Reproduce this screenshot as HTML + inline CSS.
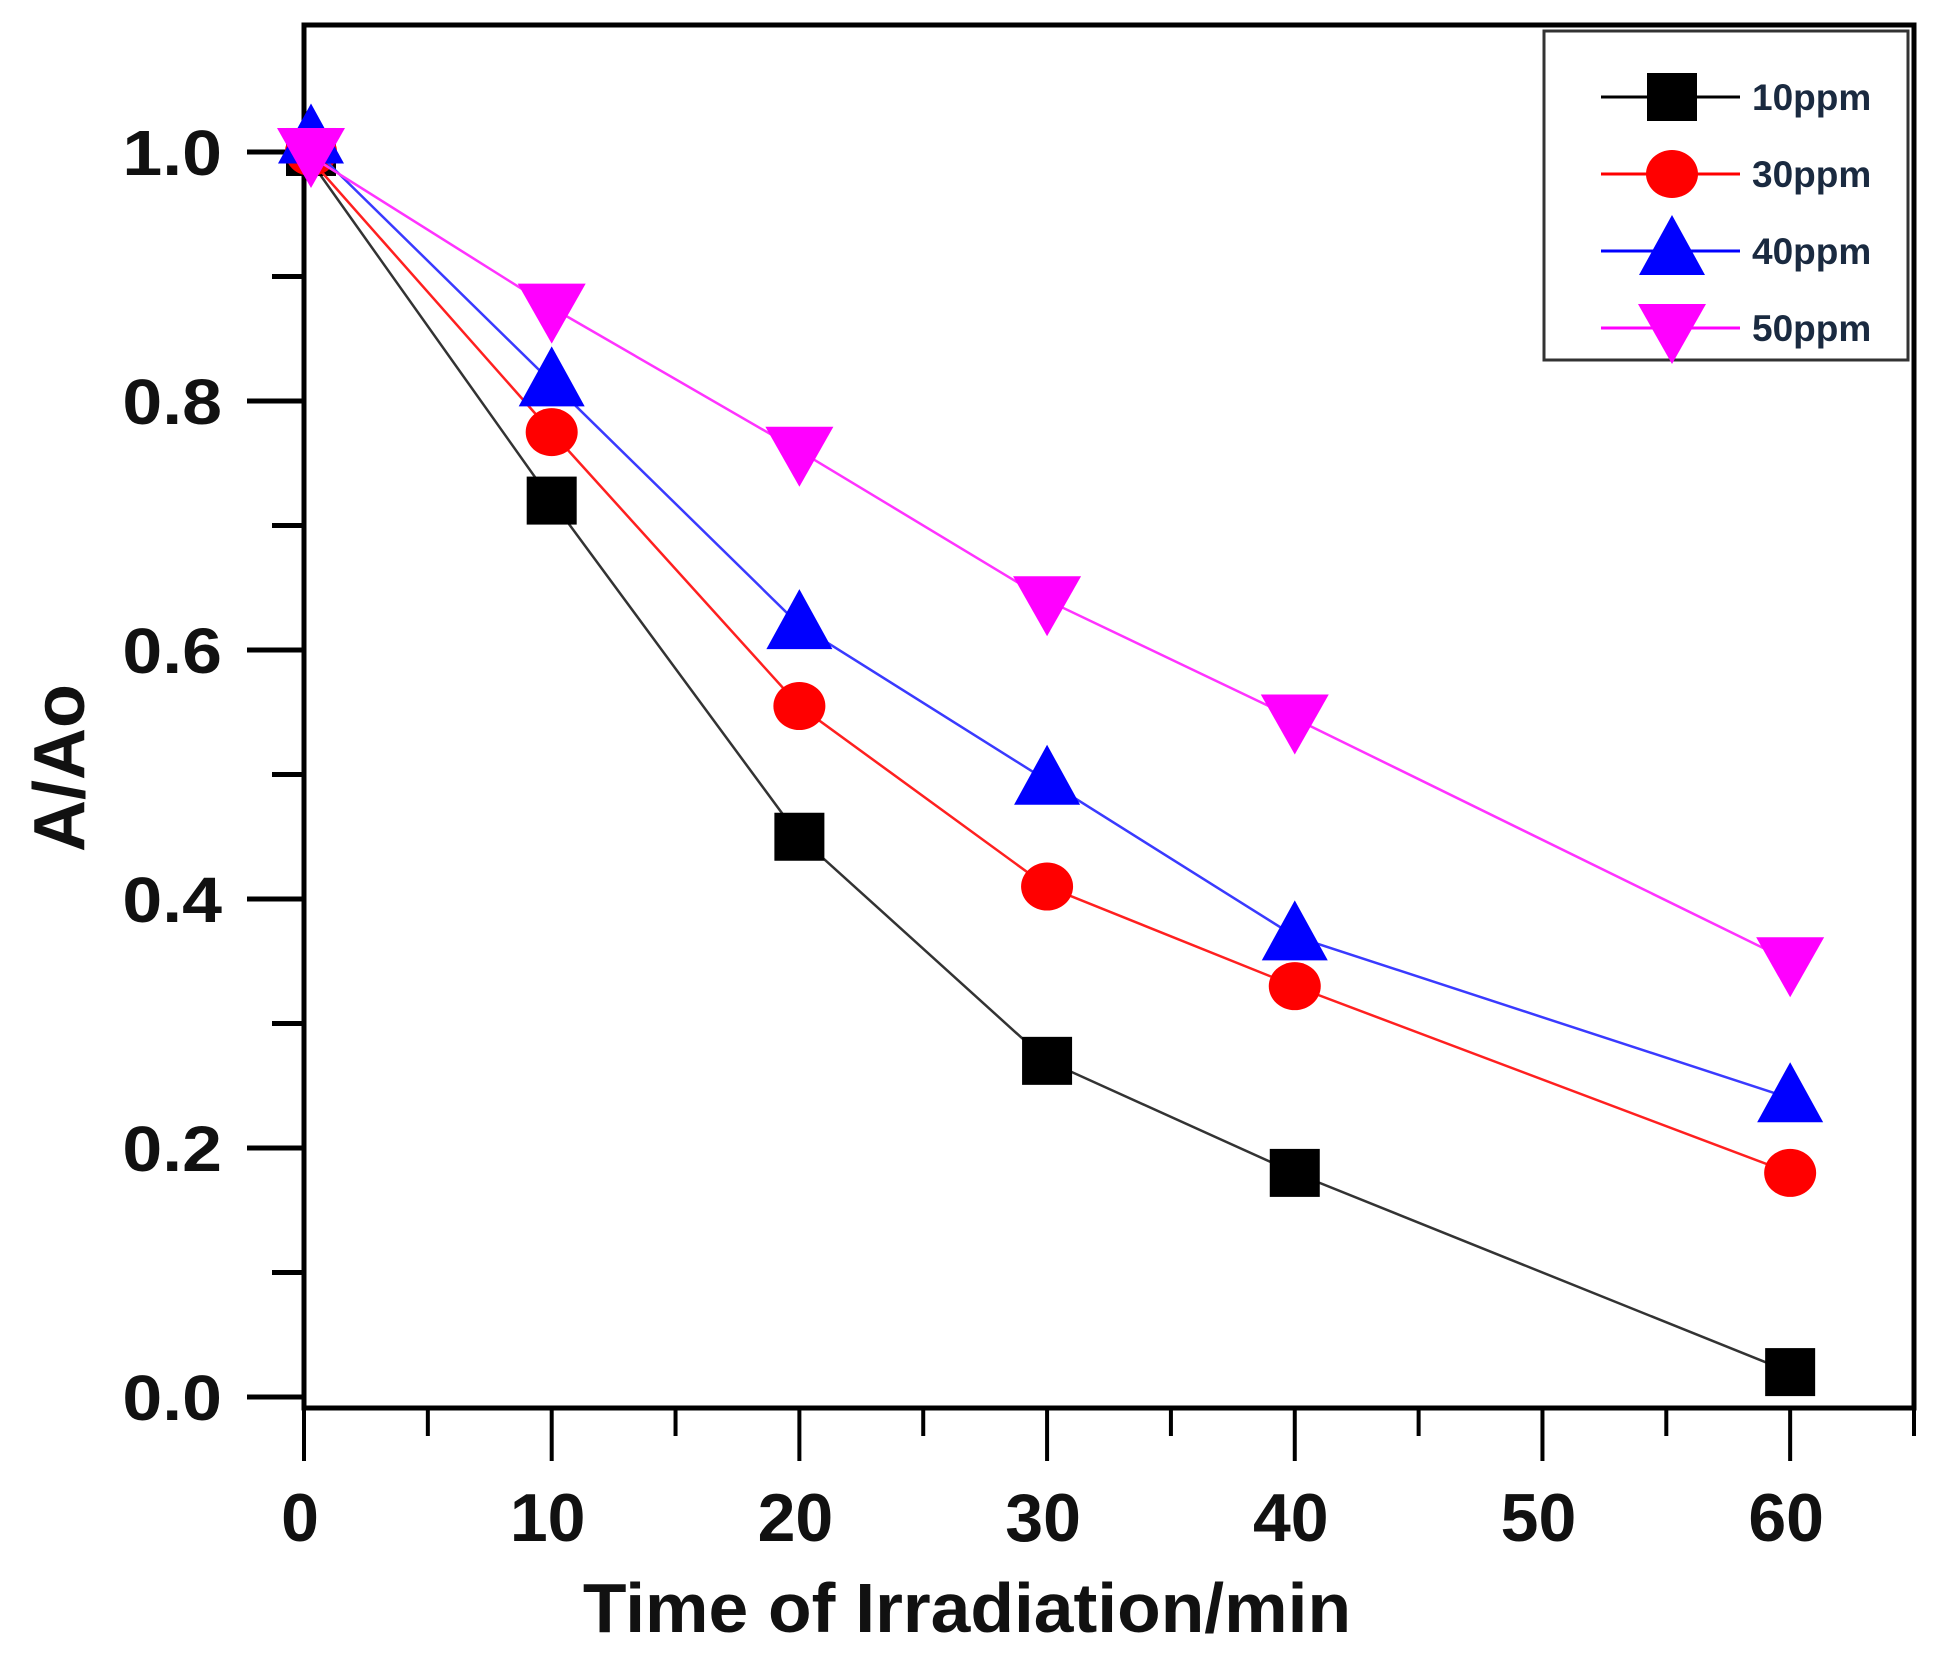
<!DOCTYPE html>
<html><head><meta charset="utf-8"><style>
html,body{margin:0;padding:0;background:#fff;}
svg{display:block;font-family:"Liberation Sans",Arial,sans-serif;font-weight:bold;}
</style></head><body>
<svg id="chart" width="1945" height="1660" viewBox="0 0 1945 1660">
<g id="axes"></g>
<g id="series"></g>
<g id="legend"></g>
</svg>
<script>
const times = [0, 10, 20, 30, 40, 60];
const s10 = [1.0, 0.72, 0.45, 0.27, 0.18, 0.02];
const s30 = [1.0, 0.775, 0.555, 0.41, 0.33, 0.18];
const s40 = [1.01, 0.815, 0.62, 0.495, 0.37, 0.24];
const s50 = [1.0, 0.875, 0.76, 0.64, 0.545, 0.35];
const seriesNames = ["10ppm", "30ppm", "40ppm", "50ppm"];
const xTickLabels = ["0","10","20","30","40","50","60"];
const yTickLabels = ["0.0","0.2","0.4","0.6","0.8","1.0"];

const NS="http://www.w3.org/2000/svg";
const L=304,R=1914,T=25,B=1397,AB=1408;
const X0=0,X1=65,Y0=0,Y1=1.102;
function xs(v){return L+(v-X0)/(X1-X0)*(R-L);}
function ys(v){return B-(v-Y0)/(Y1-Y0)*(B-T);}
function mk(tag,attrs,parent){const e=document.createElementNS(NS,tag);for(const k in attrs)e.setAttribute(k,attrs[k]);parent.appendChild(e);return e;}
const axes=document.getElementById('axes'),ser=document.getElementById('series'),leg=document.getElementById('legend');

let f=mk('rect',{x:L,y:T,width:R-L,height:AB-T,fill:'none',stroke:'#000','stroke-width':5},axes);



for(let i=0;i<=10;i++){
  const v=i*0.1,y=ys(v),major=i%2===0;
  const t=mk('line',{x1:L-(major?57:32),x2:L,y1:y,y2:y,stroke:'#000','stroke-width':5},axes);
  
  
  if(major){
    const tx=mk('text',{x:222,y:y+23,'text-anchor':'end','font-size':64,fill:'#111',transform:`translate(222,0) scale(1.12,1) translate(-222,0)`},axes);
    tx.textContent=yTickLabels[i/2];
    
    
  }
}
for(let i=0;i<=13;i++){
  const v=i*5,x=xs(v),major=i%2===0;
  const t=mk('line',{x1:x,x2:x,y1:AB,y2:AB+(major?53:28),stroke:'#000','stroke-width':4},axes);
  
  
  if(major){
    const tx=mk('text',{x:x-4,y:1541,'text-anchor':'middle','font-size':68,fill:'#111'},axes);
    tx.textContent=xTickLabels[i/2];
    
    
  }
}
let xt=mk('text',{x:967,y:1632,'text-anchor':'middle','font-size':70,fill:'#111',transform:'translate(967,0) scale(1.02,1) translate(-967,0)'},axes);
xt.textContent='Time of Irradiation/min';


let yt=mk('text',{x:0,y:0,'text-anchor':'middle','font-size':72,fill:'#111',transform:'translate(84,768) rotate(-90)'},axes);
yt.textContent='A/Ao';



const colors=['#000000','#ff0000','#0000ff','#ff00ff'];
const lineColors=['#333','#ff2020','#3a3aff','#ff33ff'];
const shapes=['square','circle','up','down'];
function marker(shape,x,y,c,parent){
  let e;
  if(shape==='square')e=mk('rect',{x:x-25,y:y-24,width:50,height:48,fill:c},parent);
  else if(shape==='circle')e=mk('ellipse',{cx:x,cy:y,rx:26,ry:24,fill:c},parent);
  else if(shape==='up')e=mk('polygon',{points:`${x},${y-36} ${x-33},${y+24} ${x+33},${y+24}`,fill:c},parent);
  else e=mk('polygon',{points:`${x-34},${y-24} ${x+34},${y-24} ${x},${y+36}`,fill:c},parent);
  return e;
}
const allData=[s10,s30,s40,s50];
allData.forEach((d,si)=>{
  const g=mk('g',{},ser);
  
  
  const pts=times.map((t,i)=>xs(t)+','+ys(d[i])).join(' ');
  const pl=mk('polyline',{points:pts,fill:'none',stroke:lineColors[si],'stroke-width':2.5},g);
  
  
  times.forEach((t,i)=>{
    const m=marker(shapes[si],xs(t)+(i===0?7:0),ys(d[i]),colors[si],g);
    
    
  });
});

let lb=mk('rect',{x:1544,y:31,width:364,height:329,fill:'#fff',stroke:'#333','stroke-width':3},leg);


const ly=[97,174,251,328];
seriesNames.forEach((n,i)=>{
  const g=mk('g',{},leg);
  
  
  mk('line',{x1:1601,x2:1740,y1:ly[i],y2:ly[i],stroke:colors[i],'stroke-width':3},g);
  marker(shapes[i],1672,ly[i],colors[i],g);
  const tx=mk('text',{x:1752,y:ly[i]+13,'font-size':37,fill:'#1a2a40'},g);
  tx.textContent=n;
  
  
});
</script>
</body></html>
